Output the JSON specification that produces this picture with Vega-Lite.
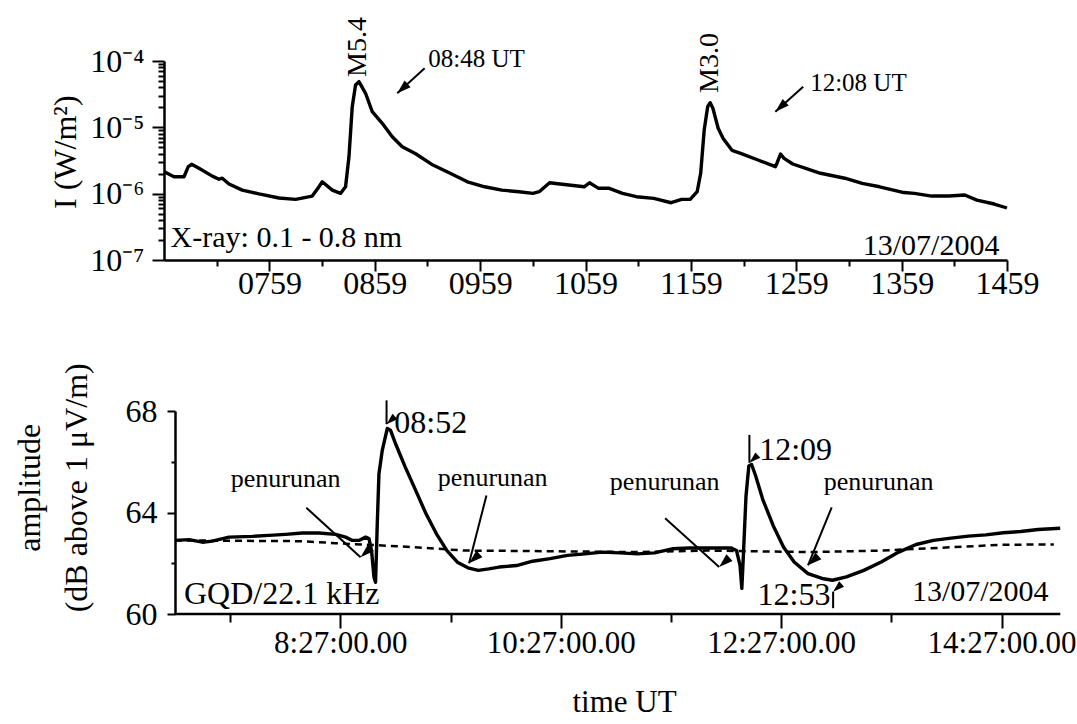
{
  "$schema": "https://vega.github.io/schema/vega-lite/v6.json",
  "background": "white",
  "padding": {"left": 12, "top": 17, "right": 0, "bottom": 0},
  "spacing": 63,
  "config": {
    "view": {"stroke": null},
    "font": "Liberation Serif",
    "axis": {
      "grid": false,
      "domainColor": "black",
      "domainWidth": 2.5,
      "tickColor": "black",
      "tickWidth": 2,
      "labelColor": "black",
      "titleColor": "black",
      "labelFont": "Liberation Serif",
      "titleFont": "Liberation Serif",
      "titleFontWeight": "normal",
      "labelFlush": false,
      "labelOverlap": false
    },
    "text": {"font": "Liberation Serif", "color": "black"}
  },
  "datasets": {
    "xray": [
      {"t": "2004-07-13T06:59:10", "I": 2.14e-6},
      {"t": "2004-07-13T07:04:41", "I": 1.80e-6},
      {"t": "2004-07-13T07:10:23", "I": 1.80e-6},
      {"t": "2004-07-13T07:12:50", "I": 2.55e-6},
      {"t": "2004-07-13T07:14:43", "I": 2.77e-6},
      {"t": "2004-07-13T07:18:55", "I": 2.41e-6},
      {"t": "2004-07-13T07:26:30", "I": 1.84e-6},
      {"t": "2004-07-13T07:30:19", "I": 1.65e-6},
      {"t": "2004-07-13T07:32:11", "I": 1.71e-6},
      {"t": "2004-07-13T07:36:00", "I": 1.40e-6},
      {"t": "2004-07-13T07:43:34", "I": 1.13e-6},
      {"t": "2004-07-13T07:53:05", "I": 9.9e-7},
      {"t": "2004-07-13T08:04:28", "I": 8.6e-7},
      {"t": "2004-07-13T08:13:55", "I": 8.2e-7},
      {"t": "2004-07-13T08:23:25", "I": 9.2e-7},
      {"t": "2004-07-13T08:27:14", "I": 1.27e-6},
      {"t": "2004-07-13T08:29:07", "I": 1.51e-6},
      {"t": "2004-07-13T08:34:49", "I": 1.13e-6},
      {"t": "2004-07-13T08:39:32", "I": 1.01e-6},
      {"t": "2004-07-13T08:42:23", "I": 1.27e-6},
      {"t": "2004-07-13T08:44:19", "I": 3.6e-6},
      {"t": "2004-07-13T08:46:11", "I": 2.05e-5},
      {"t": "2004-07-13T08:48:04", "I": 4.35e-5},
      {"t": "2004-07-13T08:50:01", "I": 4.88e-5},
      {"t": "2004-07-13T08:53:46", "I": 3.26e-5},
      {"t": "2004-07-13T08:57:35", "I": 1.72e-5},
      {"t": "2004-07-13T09:03:16", "I": 1.15e-5},
      {"t": "2004-07-13T09:08:58", "I": 7.2e-6},
      {"t": "2004-07-13T09:14:39", "I": 5.1e-6},
      {"t": "2004-07-13T09:22:17", "I": 4.0e-6},
      {"t": "2004-07-13T09:32:08", "I": 2.70e-6},
      {"t": "2004-07-13T09:41:55", "I": 2.03e-6},
      {"t": "2004-07-13T09:51:46", "I": 1.51e-6},
      {"t": "2004-07-13T10:01:34", "I": 1.27e-6},
      {"t": "2004-07-13T10:11:21", "I": 1.13e-6},
      {"t": "2004-07-13T10:21:12", "I": 1.07e-6},
      {"t": "2004-07-13T10:29:04", "I": 1.01e-6},
      {"t": "2004-07-13T10:32:38", "I": 1.07e-6},
      {"t": "2004-07-13T10:38:34", "I": 1.46e-6},
      {"t": "2004-07-13T10:44:29", "I": 1.40e-6},
      {"t": "2004-07-13T10:58:16", "I": 1.27e-6},
      {"t": "2004-07-13T11:01:17", "I": 1.46e-6},
      {"t": "2004-07-13T11:06:14", "I": 1.21e-6},
      {"t": "2004-07-13T11:12:09", "I": 1.21e-6},
      {"t": "2004-07-13T11:20:04", "I": 1.01e-6},
      {"t": "2004-07-13T11:27:59", "I": 9.0e-7},
      {"t": "2004-07-13T11:37:53", "I": 8.5e-7},
      {"t": "2004-07-13T11:47:47", "I": 7.3e-7},
      {"t": "2004-07-13T11:53:43", "I": 8.2e-7},
      {"t": "2004-07-13T11:58:36", "I": 8.2e-7},
      {"t": "2004-07-13T12:02:35", "I": 1.07e-6},
      {"t": "2004-07-13T12:04:35", "I": 2.03e-6},
      {"t": "2004-07-13T12:06:35", "I": 9.1e-6},
      {"t": "2004-07-13T12:08:34", "I": 2.05e-5},
      {"t": "2004-07-13T12:09:59", "I": 2.35e-5},
      {"t": "2004-07-13T12:11:32", "I": 1.94e-5},
      {"t": "2004-07-13T12:14:32", "I": 9.7e-6},
      {"t": "2004-07-13T12:17:23", "I": 6.8e-6},
      {"t": "2004-07-13T12:22:24", "I": 4.5e-6},
      {"t": "2004-07-13T12:27:21", "I": 4.06e-6},
      {"t": "2004-07-13T12:37:12", "I": 3.22e-6},
      {"t": "2004-07-13T12:47:06", "I": 2.55e-6},
      {"t": "2004-07-13T12:48:08", "I": 2.93e-6},
      {"t": "2004-07-13T12:50:04", "I": 3.96e-6},
      {"t": "2004-07-13T12:52:04", "I": 3.41e-6},
      {"t": "2004-07-13T12:57:01", "I": 2.80e-6},
      {"t": "2004-07-13T13:06:55", "I": 2.28e-6},
      {"t": "2004-07-13T13:12:50", "I": 2.03e-6},
      {"t": "2004-07-13T13:26:40", "I": 1.71e-6},
      {"t": "2004-07-13T13:36:31", "I": 1.43e-6},
      {"t": "2004-07-13T13:46:29", "I": 1.27e-6},
      {"t": "2004-07-13T14:00:19", "I": 1.04e-6},
      {"t": "2004-07-13T14:06:14", "I": 1.01e-6},
      {"t": "2004-07-13T14:16:08", "I": 9.2e-7},
      {"t": "2004-07-13T14:26:02", "I": 9.2e-7},
      {"t": "2004-07-13T14:34:55", "I": 9.55e-7},
      {"t": "2004-07-13T14:41:52", "I": 8.0e-7},
      {"t": "2004-07-13T14:51:43", "I": 6.98e-7},
      {"t": "2004-07-13T14:59:00", "I": 6.08e-7}
    ],
    "vlf": [
      {"t": "2004-07-13T06:57:00", "A": 62.90},
      {"t": "2004-07-13T07:04:37", "A": 62.93},
      {"t": "2004-07-13T07:11:52", "A": 62.83},
      {"t": "2004-07-13T07:17:18", "A": 62.87},
      {"t": "2004-07-13T07:26:24", "A": 63.03},
      {"t": "2004-07-13T07:39:05", "A": 63.06},
      {"t": "2004-07-13T07:48:10", "A": 63.10},
      {"t": "2004-07-13T07:57:13", "A": 63.14},
      {"t": "2004-07-13T08:06:18", "A": 63.19},
      {"t": "2004-07-13T08:15:23", "A": 63.19},
      {"t": "2004-07-13T08:24:26", "A": 63.14},
      {"t": "2004-07-13T08:29:52", "A": 63.03},
      {"t": "2004-07-13T08:33:31", "A": 62.90},
      {"t": "2004-07-13T08:37:10", "A": 62.90},
      {"t": "2004-07-13T08:40:46", "A": 63.03},
      {"t": "2004-07-13T08:42:37", "A": 62.97},
      {"t": "2004-07-13T08:44:01", "A": 62.50},
      {"t": "2004-07-13T08:45:20", "A": 61.45},
      {"t": "2004-07-13T08:46:12", "A": 61.25},
      {"t": "2004-07-13T08:47:08", "A": 63.56},
      {"t": "2004-07-13T08:48:03", "A": 65.53},
      {"t": "2004-07-13T08:49:51", "A": 66.45},
      {"t": "2004-07-13T08:52:34", "A": 67.31},
      {"t": "2004-07-13T08:54:22", "A": 67.24},
      {"t": "2004-07-13T08:57:05", "A": 66.71},
      {"t": "2004-07-13T09:02:22", "A": 65.79},
      {"t": "2004-07-13T09:08:02", "A": 64.87},
      {"t": "2004-07-13T09:13:41", "A": 63.95},
      {"t": "2004-07-13T09:19:21", "A": 63.16},
      {"t": "2004-07-13T09:25:04", "A": 62.50},
      {"t": "2004-07-13T09:30:44", "A": 62.04},
      {"t": "2004-07-13T09:36:27", "A": 61.82},
      {"t": "2004-07-13T09:42:07", "A": 61.72},
      {"t": "2004-07-13T09:47:49", "A": 61.78},
      {"t": "2004-07-13T09:53:29", "A": 61.85},
      {"t": "2004-07-13T10:02:58", "A": 61.91},
      {"t": "2004-07-13T10:11:43", "A": 62.08},
      {"t": "2004-07-13T10:21:11", "A": 62.18},
      {"t": "2004-07-13T10:30:40", "A": 62.31},
      {"t": "2004-07-13T10:40:11", "A": 62.37},
      {"t": "2004-07-13T10:49:40", "A": 62.44},
      {"t": "2004-07-13T10:59:08", "A": 62.41},
      {"t": "2004-07-13T11:08:40", "A": 62.37},
      {"t": "2004-07-13T11:18:08", "A": 62.41},
      {"t": "2004-07-13T11:27:37", "A": 62.57},
      {"t": "2004-07-13T11:37:08", "A": 62.60},
      {"t": "2004-07-13T11:46:37", "A": 62.60},
      {"t": "2004-07-13T11:59:53", "A": 62.60},
      {"t": "2004-07-13T12:02:43", "A": 62.50},
      {"t": "2004-07-13T12:04:38", "A": 61.92},
      {"t": "2004-07-13T12:05:37", "A": 61.01},
      {"t": "2004-07-13T12:06:32", "A": 62.44},
      {"t": "2004-07-13T12:07:53", "A": 64.65},
      {"t": "2004-07-13T12:09:25", "A": 65.83},
      {"t": "2004-07-13T12:10:56", "A": 65.89},
      {"t": "2004-07-13T12:13:10", "A": 65.44},
      {"t": "2004-07-13T12:16:59", "A": 64.52},
      {"t": "2004-07-13T12:22:42", "A": 63.48},
      {"t": "2004-07-13T12:28:22", "A": 62.63},
      {"t": "2004-07-13T12:34:05", "A": 62.05},
      {"t": "2004-07-13T12:41:38", "A": 61.59},
      {"t": "2004-07-13T12:49:16", "A": 61.40},
      {"t": "2004-07-13T12:54:55", "A": 61.33},
      {"t": "2004-07-13T13:02:32", "A": 61.46},
      {"t": "2004-07-13T13:12:01", "A": 61.72},
      {"t": "2004-07-13T13:21:29", "A": 62.05},
      {"t": "2004-07-13T13:31:01", "A": 62.44},
      {"t": "2004-07-13T13:40:29", "A": 62.74},
      {"t": "2004-07-13T13:49:58", "A": 62.90},
      {"t": "2004-07-13T13:59:29", "A": 62.99},
      {"t": "2004-07-13T14:08:58", "A": 63.07},
      {"t": "2004-07-13T14:18:26", "A": 63.12},
      {"t": "2004-07-13T14:27:55", "A": 63.20},
      {"t": "2004-07-13T14:37:26", "A": 63.25},
      {"t": "2004-07-13T14:46:54", "A": 63.33},
      {"t": "2004-07-13T14:58:56", "A": 63.38}
    ],
    "quiet": [
      {"t": "2004-07-13T06:57:00", "A": 62.90},
      {"t": "2004-07-13T08:06:18", "A": 62.87},
      {"t": "2004-07-13T08:24:26", "A": 62.79},
      {"t": "2004-07-13T08:49:51", "A": 62.70},
      {"t": "2004-07-13T09:06:11", "A": 62.64},
      {"t": "2004-07-13T09:34:29", "A": 62.50},
      {"t": "2004-07-13T10:11:43", "A": 62.48},
      {"t": "2004-07-13T11:08:40", "A": 62.44},
      {"t": "2004-07-13T11:46:37", "A": 62.50},
      {"t": "2004-07-13T12:15:02", "A": 62.47},
      {"t": "2004-07-13T12:43:30", "A": 62.44},
      {"t": "2004-07-13T13:21:29", "A": 62.50},
      {"t": "2004-07-13T13:59:29", "A": 62.63},
      {"t": "2004-07-13T14:27:55", "A": 62.73},
      {"t": "2004-07-13T14:55:28", "A": 62.74}
    ],
    "bottomAxisLine": [
      {"t": "2004-07-13T06:57:00", "t2": "2004-07-13T14:59:00", "A": 60}
    ],
    "topFlare": [
      {"t": "2004-07-13T08:49:19", "I": 5.74e-5, "label": "M5.4"},
      {"t": "2004-07-13T12:09:59", "I": 3.30e-5, "label": "M3.0"}
    ],
    "topUT": [
      {"t": "2004-07-13T09:29:28", "I": 1.07e-4, "label": "08:48 UT"},
      {"t": "2004-07-13T13:06:55", "I": 4.66e-5, "label": "12:08 UT"}
    ],
    "topLeftText": [
      {"t": "2004-07-13T07:02:45", "I": 2.15e-7, "label": "X-ray: 0.1 - 0.8 nm"}
    ],
    "topRightText": [
      {"t": "2004-07-13T14:54:40", "I": 1.63e-7, "label": "13/07/2004"}
    ],
    "topArrows": [
      {"id": "a1", "t": "2004-07-13T09:27:25", "I": 7.76e-5, "t2": "2004-07-13T09:11:49", "I2": 3.26e-5},
      {"id": "a2", "t": "2004-07-13T13:02:56", "I": 4.10e-5, "t2": "2004-07-13T12:47:06", "I2": 1.72e-5}
    ],
    "botArrows": [
      {"id": "b1", "t": "2004-07-13T08:08:29", "A": 64.19, "t2": "2004-07-13T08:38:02", "A2": 62.24},
      {"id": "b2", "t": "2004-07-13T09:46:34", "A": 64.67, "t2": "2004-07-13T09:37:06", "A2": 62.00},
      {"id": "b3", "t": "2004-07-13T11:23:51", "A": 63.77, "t2": "2004-07-13T11:53:15", "A2": 61.85},
      {"id": "b4", "t": "2004-07-13T12:54:32", "A": 64.20, "t2": "2004-07-13T12:41:38", "A2": 61.92}
    ],
    "botMarks": [
      {"id": "v1", "t": "2004-07-13T08:52:11", "A": 68.42, "t2": "2004-07-13T08:52:11", "A2": 67.48},
      {"id": "v2", "t": "2004-07-13T12:09:44", "A": 67.06, "t2": "2004-07-13T12:09:44", "A2": 65.96},
      {"id": "v3", "t": "2004-07-13T12:55:19", "A": 60.23, "t2": "2004-07-13T12:55:19", "A2": 60.88}
    ],
    "penurunan": [
      {"t": "2004-07-13T07:57:13", "A": 65.31, "label": "penurunan"},
      {"t": "2004-07-13T09:50:00", "A": 65.35, "label": "penurunan"},
      {"t": "2004-07-13T11:23:38", "A": 65.19, "label": "penurunan"},
      {"t": "2004-07-13T13:20:08", "A": 65.19, "label": "penurunan"}
    ],
    "botTimes": [
      {"t": "2004-07-13T08:56:23", "A": 67.53, "label": "08:52"},
      {"t": "2004-07-13T12:15:05", "A": 66.45, "label": "12:09"},
      {"t": "2004-07-13T12:14:09", "A": 60.75, "label": "12:53"},
      {"t": "2004-07-13T07:01:54", "A": 60.77, "label": "GQD/22.1 kHz"}
    ],
    "botRightText": [
      {"t": "2004-07-13T14:52:37", "A": 60.85, "label": "13/07/2004"}
    ]
  },
  "vconcat": [
    {
      "width": 843,
      "height": 199,
      "layer": [
        {
          "data": {"name": "xray"},
          "mark": {"type": "line", "color": "black", "strokeWidth": 3.4, "strokeJoin": "round"},
          "encoding": {
            "x": {
              "field": "t", "type": "temporal",
              "scale": {"domain": [{"year": 2004, "month": 7, "date": 13, "hours": 6, "minutes": 59}, {"year": 2004, "month": 7, "date": 13, "hours": 14, "minutes": 59}], "nice": false},
              "axis": {
                "title": null,
                "values": [
                  {"year": 2004, "month": 7, "date": 13, "hours": 7, "minutes": 29},
                  {"year": 2004, "month": 7, "date": 13, "hours": 7, "minutes": 59},
                  {"year": 2004, "month": 7, "date": 13, "hours": 8, "minutes": 29},
                  {"year": 2004, "month": 7, "date": 13, "hours": 8, "minutes": 59},
                  {"year": 2004, "month": 7, "date": 13, "hours": 9, "minutes": 29},
                  {"year": 2004, "month": 7, "date": 13, "hours": 9, "minutes": 59},
                  {"year": 2004, "month": 7, "date": 13, "hours": 10, "minutes": 29},
                  {"year": 2004, "month": 7, "date": 13, "hours": 10, "minutes": 59},
                  {"year": 2004, "month": 7, "date": 13, "hours": 11, "minutes": 29},
                  {"year": 2004, "month": 7, "date": 13, "hours": 11, "minutes": 59},
                  {"year": 2004, "month": 7, "date": 13, "hours": 12, "minutes": 29},
                  {"year": 2004, "month": 7, "date": 13, "hours": 12, "minutes": 59},
                  {"year": 2004, "month": 7, "date": 13, "hours": 13, "minutes": 29},
                  {"year": 2004, "month": 7, "date": 13, "hours": 13, "minutes": 59},
                  {"year": 2004, "month": 7, "date": 13, "hours": 14, "minutes": 29},
                  {"year": 2004, "month": 7, "date": 13, "hours": 14, "minutes": 59}
                ],
                "labelExpr": "minutes(datum.value) == 59 ? timeFormat(datum.value, '%H%M') : ''",
                "tickSize": {"condition": {"test": "minutes(datum.value) == 59", "value": 11}, "value": 6},
                "labelFontSize": 32,
                "labelPadding": -3
              }
            },
            "y": {
              "field": "I", "type": "quantitative",
              "scale": {"type": "log", "domain": [1e-7, 1e-4], "nice": false},
              "axis": {
                "title": "I (W/m²)",
                "titleFontSize": 32,
                "titleX": -99,
                "titleY": 90.7,
                "titleBaseline": "middle",
                "values": [1e-7, 2e-7, 3e-7, 4e-7, 5e-7, 6e-7, 7e-7, 8e-7, 9e-7, 1e-6, 2e-6, 3e-6, 4e-6, 5e-6, 6e-6, 7e-6, 8e-6, 9e-6, 1e-5, 2e-5, 3e-5, 4e-5, 5e-5, 6e-5, 7e-5, 8e-5, 9e-5, 1e-4],
                "labelExpr": "datum.value == 1e-4 ? '10⁻⁴' : datum.value == 1e-5 ? '10⁻⁵' : datum.value == 1e-6 ? '10⁻⁶' : datum.value == 1e-7 ? '10⁻⁷' : ''",
                "tickSize": {"condition": {"test": "datum.value == 1e-4 || datum.value == 1e-5 || datum.value == 1e-6 || datum.value == 1e-7", "value": 12}, "value": 6},
                "labelFontSize": 32,
                "labelPadding": 8
              }
            }
          }
        },
        {
          "data": {"name": "topArrows"},
          "mark": {"type": "rule", "color": "black", "strokeWidth": 2},
          "encoding": {
            "x": {"field": "t", "type": "temporal"},
            "y": {"field": "I", "type": "quantitative"},
            "x2": {"field": "t2"},
            "y2": {"field": "I2"}
          }
        },
        {
          "data": {"name": "topArrows"},
          "mark": {"type": "point", "shape": "M0,0L0.643,2L-0.643,2Z", "filled": true, "color": "black", "opacity": 1, "size": 196},
          "encoding": {
            "x": {"field": "t2", "type": "temporal"},
            "y": {"field": "I2", "type": "quantitative"},
            "angle": {"field": "id", "type": "nominal", "scale": {"domain": ["a1", "a2"], "range": [227.6, 228]}}
          }
        },
        {
          "data": {"name": "topFlare"},
          "mark": {"type": "text", "angle": 270, "align": "left", "baseline": "middle", "fontSize": 28},
          "encoding": {
            "x": {"field": "t", "type": "temporal"},
            "y": {"field": "I", "type": "quantitative"},
            "text": {"field": "label"}
          }
        },
        {
          "data": {"name": "topUT"},
          "mark": {"type": "text", "align": "left", "baseline": "middle", "fontSize": 25},
          "encoding": {
            "x": {"field": "t", "type": "temporal"},
            "y": {"field": "I", "type": "quantitative"},
            "text": {"field": "label"}
          }
        },
        {
          "data": {"name": "topLeftText"},
          "mark": {"type": "text", "align": "left", "baseline": "middle", "fontSize": 30},
          "encoding": {
            "x": {"field": "t", "type": "temporal"},
            "y": {"field": "I", "type": "quantitative"},
            "text": {"field": "label"}
          }
        },
        {
          "data": {"name": "topRightText"},
          "mark": {"type": "text", "align": "right", "baseline": "middle", "fontSize": 30},
          "encoding": {
            "x": {"field": "t", "type": "temporal"},
            "y": {"field": "I", "type": "quantitative"},
            "text": {"field": "label"}
          }
        }
      ]
    },
    {
      "width": 896.3,
      "height": 203,
      "layer": [
        {
          "data": {"name": "quiet"},
          "mark": {"type": "line", "color": "black", "strokeWidth": 2.5, "strokeDash": [7, 5]},
          "encoding": {
            "x": {
              "field": "t", "type": "temporal",
              "scale": {"domain": [{"year": 2004, "month": 7, "date": 13, "hours": 6, "minutes": 51, "seconds": 1}, {"year": 2004, "month": 7, "date": 13, "hours": 14, "minutes": 59}], "nice": false},
              "axis": {
                "title": "time UT",
                "titleFontSize": 31,
                "titleX": 460,
                "titleY": 88.5,
                "titleBaseline": "middle",
                "domain": false,
                "values": [
                  {"year": 2004, "month": 7, "date": 13, "hours": 7, "minutes": 27},
                  {"year": 2004, "month": 7, "date": 13, "hours": 8, "minutes": 27},
                  {"year": 2004, "month": 7, "date": 13, "hours": 9, "minutes": 27},
                  {"year": 2004, "month": 7, "date": 13, "hours": 10, "minutes": 27},
                  {"year": 2004, "month": 7, "date": 13, "hours": 11, "minutes": 27},
                  {"year": 2004, "month": 7, "date": 13, "hours": 12, "minutes": 27},
                  {"year": 2004, "month": 7, "date": 13, "hours": 13, "minutes": 27},
                  {"year": 2004, "month": 7, "date": 13, "hours": 14, "minutes": 27}
                ],
                "labelExpr": "hours(datum.value) % 2 == 0 ? timeFormat(datum.value, '%-H:%M:%S') + '.00' : ''",
                "tickSize": {"condition": {"test": "hours(datum.value) % 2 == 0", "value": 14}, "value": 8},
                "labelFontSize": 31,
                "labelPadding": 0
              }
            },
            "y": {
              "field": "A", "type": "quantitative",
              "scale": {"domain": [60, 68], "nice": false, "zero": false},
              "axis": {
                "title": ["amplitude", "(dB above 1 μV/m)"],
                "offset": -11,
                "titleFontSize": 32,
                "titleLineHeight": 47.5,
                "titleX": -146,
                "titleY": 76.3,
                "titleBaseline": "middle",
                "values": [60, 62, 64, 66, 68],
                "labelExpr": "datum.value % 4 == 0 ? datum.label : ''",
                "tickSize": {"condition": {"test": "datum.value % 4 == 0", "value": 8}, "value": 4},
                "labelFontSize": 32,
                "labelPadding": 10
              }
            }
          }
        },
        {
          "data": {"name": "bottomAxisLine"},
          "mark": {"type": "rule", "color": "black", "strokeWidth": 2.5},
          "encoding": {
            "x": {"field": "t", "type": "temporal"},
            "x2": {"field": "t2"},
            "y": {"field": "A", "type": "quantitative"}
          }
        },
        {
          "data": {"name": "vlf"},
          "mark": {"type": "line", "color": "black", "strokeWidth": 3.4, "strokeJoin": "round"},
          "encoding": {
            "x": {"field": "t", "type": "temporal"},
            "y": {"field": "A", "type": "quantitative"}
          }
        },
        {
          "data": {"name": "botArrows"},
          "mark": {"type": "rule", "color": "black", "strokeWidth": 2},
          "encoding": {
            "x": {"field": "t", "type": "temporal"},
            "y": {"field": "A", "type": "quantitative"},
            "x2": {"field": "t2"},
            "y2": {"field": "A2"}
          }
        },
        {
          "data": {"name": "botArrows"},
          "mark": {"type": "point", "shape": "M0,0L0.643,2L-0.643,2Z", "filled": true, "color": "black", "opacity": 1, "size": 196},
          "encoding": {
            "x": {"field": "t2", "type": "temporal"},
            "y": {"field": "A2", "type": "quantitative"},
            "angle": {"field": "id", "type": "nominal", "scale": {"domain": ["b1", "b2", "b3", "b4"], "range": [132.3, 194.4, 131.9, 202.3]}}
          }
        },
        {
          "data": {"name": "botMarks"},
          "mark": {"type": "rule", "color": "black", "strokeWidth": 2},
          "encoding": {
            "x": {"field": "t", "type": "temporal"},
            "y": {"field": "A", "type": "quantitative"},
            "x2": {"field": "t2"},
            "y2": {"field": "A2"}
          }
        },
        {
          "data": {"name": "botMarks"},
          "mark": {"type": "point", "shape": "M0,0L0.643,2L-0.643,2Z", "filled": true, "color": "black", "opacity": 1, "size": 130},
          "encoding": {
            "x": {"field": "t2", "type": "temporal"},
            "y": {"field": "A2", "type": "quantitative"},
            "angle": {"field": "id", "type": "nominal", "scale": {"domain": ["v1", "v2", "v3"], "range": [180, 180, 0]}}
          }
        },
        {
          "data": {"name": "penurunan"},
          "mark": {"type": "text", "align": "center", "baseline": "middle", "fontSize": 26},
          "encoding": {
            "x": {"field": "t", "type": "temporal"},
            "y": {"field": "A", "type": "quantitative"},
            "text": {"field": "label"}
          }
        },
        {
          "data": {"name": "botTimes"},
          "mark": {"type": "text", "align": "left", "baseline": "middle", "fontSize": 32},
          "encoding": {
            "x": {"field": "t", "type": "temporal"},
            "y": {"field": "A", "type": "quantitative"},
            "text": {"field": "label"}
          }
        },
        {
          "data": {"name": "botRightText"},
          "mark": {"type": "text", "align": "right", "baseline": "middle", "fontSize": 30},
          "encoding": {
            "x": {"field": "t", "type": "temporal"},
            "y": {"field": "A", "type": "quantitative"},
            "text": {"field": "label"}
          }
        }
      ]
    }
  ]
}
